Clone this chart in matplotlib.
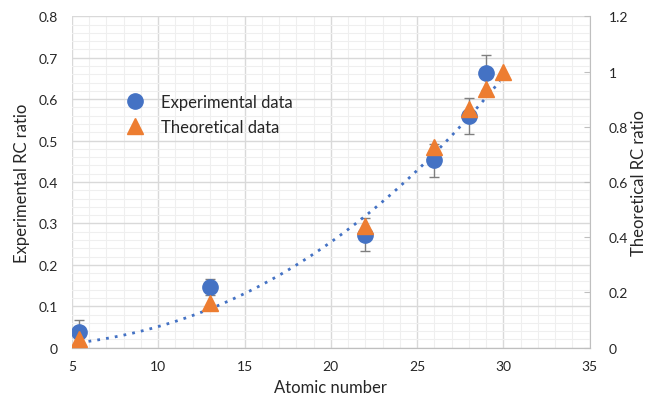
import matplotlib.pyplot as plt
import numpy as np
from matplotlib.ticker import MultipleLocator

plt.rcParams['font.family'] = ['Lato', 'DejaVu Sans']

# Experimental data (left axis)
exp_z = [5.4, 13, 22, 26, 28, 29]
exp_ratio = [0.037, 0.147, 0.273, 0.452, 0.560, 0.664]
exp_err = [0.030, 0.020, 0.040, 0.040, 0.043, 0.042]

# Theoretical data (right axis)
th_z = [5.4, 13, 22, 26, 28, 29, 30]
th_ratio = [0.031, 0.162, 0.442, 0.728, 0.865, 0.938, 1.0]

# dotted trendline, values (left axis units)
trend_z = [5.5, 10, 15, 22, 24.15, 28, 29.74]
trend_val = [0.013, 0.048, 0.134, 0.325, 0.403, 0.536, 0.645]

blue = '#4472C4'
orange = '#ED7D31'
txt = '#262626'

fig = plt.figure(figsize=(6.48, 4.02), dpi=100)
ax = fig.add_axes([0.111, 0.1326, 0.799, 0.8244])
ax2 = ax.twinx()

ax.set_xlim(5, 35)
ax.set_ylim(0, 0.8)
ax2.set_ylim(0, 1.2)

ax.xaxis.set_major_locator(MultipleLocator(5))
ax.xaxis.set_minor_locator(MultipleLocator(1))
ax.yaxis.set_major_locator(MultipleLocator(0.1))
ax.yaxis.set_minor_locator(MultipleLocator(0.02))
ax2.yaxis.set_major_locator(MultipleLocator(0.2))

ax.grid(which='major', color='#d9d9d9', lw=1.0)
ax.grid(which='minor', color='#efefef', lw=0.8)
ax.set_axisbelow(True)

for a in (ax, ax2):
    a.spines['top'].set_visible(False)
    a.spines['left'].set_visible(False)
    a.spines['bottom'].set_color('#bfbfbf')
    a.spines['right'].set_color('#bfbfbf')
ax.spines['right'].set_visible(False)

ax.tick_params(which='both', length=0, labelsize=10, colors=txt, pad=10)
ax.tick_params(axis='x', pad=9)
ax2.tick_params(which='both', length=4, direction='in', color='#bfbfbf',
                labelsize=10, labelcolor=txt, pad=14)

ax.set_yticks(np.arange(0, 0.81, 0.1))
ax.set_yticklabels(['0'] + [f'{v:.1f}' for v in np.arange(0.1, 0.81, 0.1)])
ax2.set_yticks(np.arange(0, 1.21, 0.2))
ax2.set_yticklabels(['0', '0.2', '0.4', '0.6', '0.8', '1', '1.2'])

ax.errorbar(exp_z, exp_ratio, yerr=exp_err, fmt='none', ecolor='#7f7f7f',
            elinewidth=1.0, capsize=3.5, capthick=1.0, zorder=2)
ax.plot(exp_z, exp_ratio, 'o', color=blue, ms=11, zorder=3,
        label='Experimental data')

# power-law trendline through the read points
p = np.polyfit(np.log(trend_z), np.log(trend_val), 1)
xs = np.linspace(5.45, 29.8, 200)
ax2.plot(xs, 1.5 * np.exp(np.polyval(p, np.log(xs))), color=blue, lw=2,
         ls=(0, (1, 2.2)), zorder=2)
ax2.plot(th_z, th_ratio, '^', color=orange, ms=11, zorder=3,
         label='Theoretical data')

h1, l1 = ax.get_legend_handles_labels()
h2, l2 = ax2.get_legend_handles_labels()
ax2.legend(h1 + h2, l1 + l2, loc='upper left', bbox_to_anchor=(0.06, 0.81),
           frameon=False, fontsize=12, handletextpad=0.6, labelspacing=0.5,
           labelcolor=txt)

ax.set_xlabel('Atomic number', fontsize=12, color=txt, labelpad=5)
ax.set_ylabel('Experimental RC ratio', fontsize=12, color=txt, labelpad=6)
ax2.set_ylabel('Theoretical RC ratio', fontsize=12, color=txt, labelpad=2)

fig.savefig('out.png', dpi=100)
